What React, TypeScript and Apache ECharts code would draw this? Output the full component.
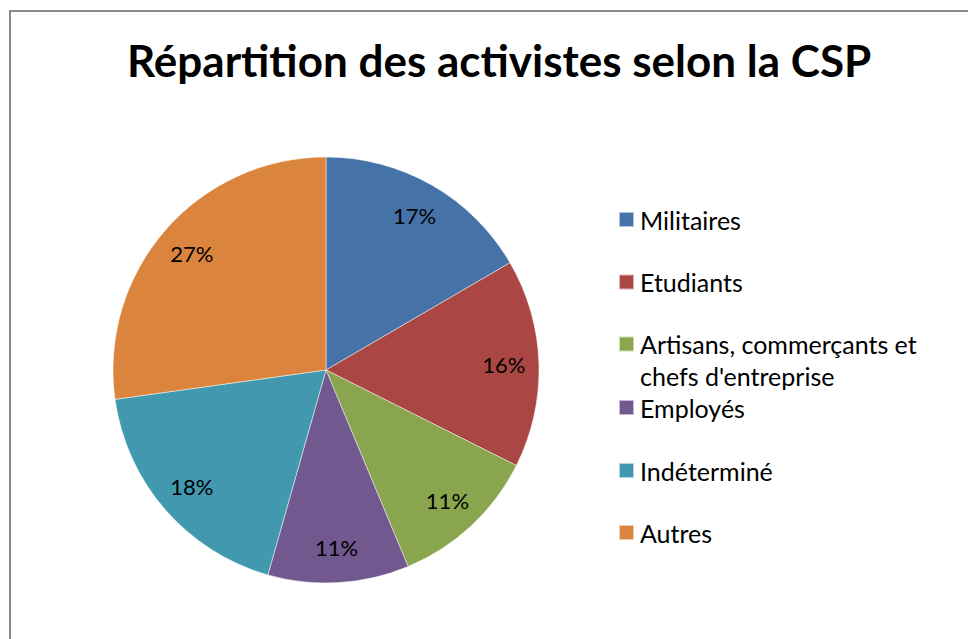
import React, { useEffect, useRef } from "react";
import * as echarts from "echarts";

const TITLE = "Répartition des activistes selon la CSP";
const categories = [
  "Militaires",
  "Etudiants",
  "Artisans, commerçants et chefs d'entreprise",
  "Employés",
  "Indéterminé",
  "Autres",
];
// shares (%); labels show rounded values
const values = [16.6, 15.8, 11.3, 10.7, 18.4, 27.2];
const colors = ["#4572A7", "#AA4643", "#89A54E", "#71588F", "#4198AF", "#DB843D"];
const legendTops = [207, 269.5, 296, 395, 458, 520];

const FONT = "Lato";

export default function App() {
  const ref = useRef<HTMLDivElement>(null);
  useEffect(() => {
    document.body.style.margin = "0";
    const chart = echarts.init(ref.current!, null, { renderer: "svg" });
    const data = categories.map((c, i) => ({ name: c, value: values[i], itemStyle: { color: colors[i] } }));
    const legends = categories.map((c, i) => ({
      data: [c],
      orient: "vertical",
      left: 618,
      top: legendTops[i],
      padding: 0,
      itemWidth: 15,
      itemHeight: 15,
      icon: "rect",
      selectedMode: false,
      formatter: (n: string) =>
        n === categories[2] ? "\nArtisans, commerçants et\nchefs d'entreprise" : n,
      textStyle: {
        fontFamily: FONT,
        fontSize: 25,
        color: "#000",
        lineHeight: i === 2 ? 32 : 24,
        padding: [0, 0, 0, 1],
      },
    }));
    chart.setOption({
      animation: false,
      backgroundColor: "#fff",
      title: {
        text: TITLE,
        left: 122,
        top: 33,
        textStyle: { fontFamily: FONT, fontWeight: "bold", fontSize: 44, color: "#000" },
      },
      legend: legends,
      graphic: [
        {
          type: "rect",
          shape: { x: 10, y: 11, width: 1000, height: 700 },
          style: { fill: "none", stroke: "#8a8a8a", lineWidth: 2 },
          silent: true,
        },
      ],
      series: [
        {
          type: "pie",
          center: [326, 370],
          radius: 213,
          startAngle: 90,
          clockwise: true,
          data,
          label: { show: false },
          labelLine: { show: false },
          itemStyle: { borderColor: "rgba(255,255,255,0.6)", borderWidth: 0.8 },
          emphasis: { disabled: true },
        },
        {
          type: "pie",
          center: [326, 370],
          radius: [150, 200],
          startAngle: 90,
          clockwise: true,
          silent: true,
          data: categories.map((c, i) => ({ name: c, value: values[i] })),
          itemStyle: { color: "rgba(0,0,0,0)", borderWidth: 0 },
          label: {
            show: true,
            position: "inside",
            formatter: (p: any) => Math.round(p.percent) + "%",
            fontFamily: FONT,
            fontSize: 22,
            color: "#000",
          },
          labelLine: { show: false },
          emphasis: { disabled: true },
        },
      ],
    });
    return () => chart.dispose();
  }, []);
  return <div ref={ref} style={{ width: 968, height: 639 }} />;
}
